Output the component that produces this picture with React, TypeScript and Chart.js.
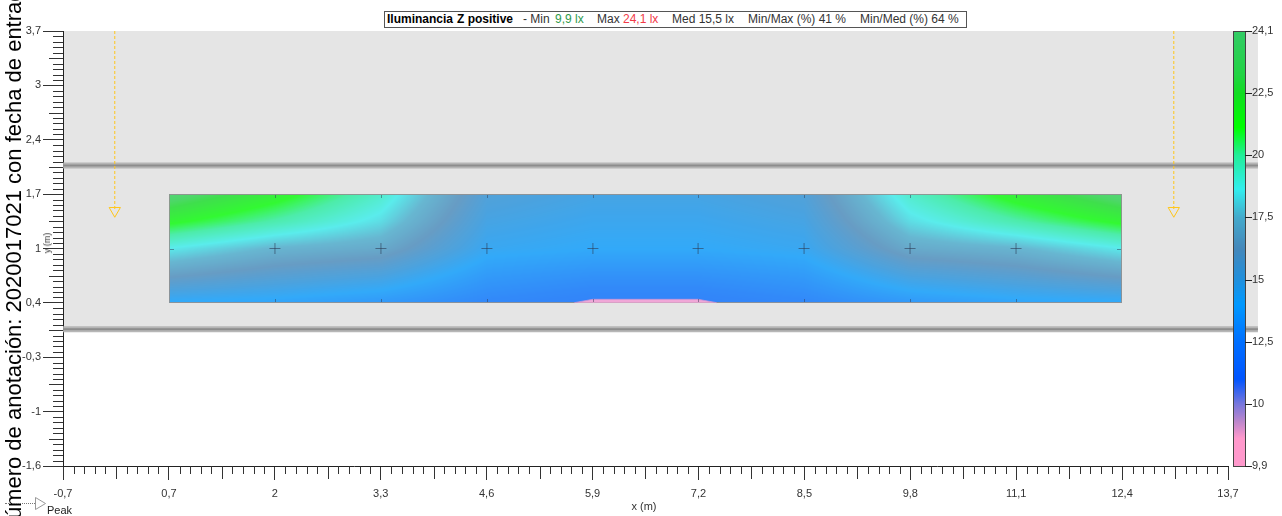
import React, { useEffect, useRef } from "react";
import { Chart, registerables } from "chart.js";

Chart.register(...registerables);

const X_MIN = -0.7;
const X_MAX = 13.7;
const Y_MIN = -1.6;
const Y_MAX = 3.7;

const xTickLabels = ["-0,7", "0,7", "2", "3,3", "4,6", "5,9", "7,2", "8,5", "9,8", "11,1", "12,4", "13,7"];
const yTickLabels = ["-1,6", "-1", "-0,3", "0,4", "1", "1,7", "2,4", "3", "3,7"];

const cbValues = [9.9, 10, 12.5, 15, 17.5, 20, 22.5, 24.1];
const cbLabels = ["9,9", "10", "12,5", "15", "17,5", "20", "22,5", "24,1"];
const cbStopPos = [0, 0.45, 0.7, 1, 1.4, 2, 2.6, 3, 3.5, 4, 4.45, 5, 5.45, 6, 6.3, 7];
const cbStopColor = [
  "#ff99cc", "#ff99cc", "#c088cc", "#7777dd", "#0055ff", "#0070ff", "#0099ff", "#2090dd",
  "#4488bb", "#44aacc", "#33eeee", "#22ee99", "#00ff00", "#11dd22", "#22d444", "#33cc66",
];

const planeX = [-0.7, 14.07];
const planeY = [0.065, 3.7];
const wallY = [2.06, 0.065];

const gridX = [0.61, 1.92, 3.23, 4.54, 5.85, 7.15, 8.46, 9.77, 11.08, 12.39];
const gridY = [1.71, 1.38, 1.05, 0.72, 0.39];
const illuminance = [
  [23.6, 21.7, 19.3, 15.3, 14.8, 14.8, 15.3, 19.3, 21.7, 23.6],
  [21.4, 19.9, 18.3, 14.8, 14.4, 14.4, 14.8, 18.3, 19.9, 21.4],
  [18.6, 17.4, 16.9, 14.3, 14.0, 14.0, 14.3, 16.9, 17.4, 18.6],
  [16.4, 15.6, 15.0, 13.3, 12.9, 12.9, 13.3, 15.0, 15.6, 16.4],
  [13.9, 13.7, 13.2, 12.4, 12.0, 12.0, 12.4, 13.2, 13.7, 13.9],
];

// area below 10 lx (pink zone) on the lower edge
const minZoneX = [5.62, 5.85, 7.15, 7.38];
const minZoneY = [0.39, 0.431, 0.431, 0.39];

const calcX = [1.92, 3.23, 4.54, 5.85, 7.15, 8.46, 9.77, 11.08];
const calcY = 1.05;

const luminaireX = [-0.06, 13.03];
const luminaireTipY = 1.51;

const FONT = '"Liberation Sans", Arial, sans-serif';
const HEAT_ALPHA = 199;

function hexToRgb(h: string): number[] {
  const n = parseInt(h.slice(1), 16);
  return [(n >> 16) & 255, (n >> 8) & 255, n & 255];
}
const cbStopRgb = cbStopColor.map(hexToRgb);

function posForValue(v: number): number {
  if (v <= cbValues[0]) return 0;
  for (let i = 0; i < cbValues.length - 1; i++) {
    if (v <= cbValues[i + 1]) return i + (v - cbValues[i]) / (cbValues[i + 1] - cbValues[i]);
  }
  return cbValues.length - 1;
}

function colorAtPos(p: number): number[] {
  if (p <= cbStopPos[0]) return cbStopRgb[0];
  for (let i = 0; i < cbStopPos.length - 1; i++) {
    if (p <= cbStopPos[i + 1]) {
      const t = (p - cbStopPos[i]) / (cbStopPos[i + 1] - cbStopPos[i]);
      const a = cbStopRgb[i], b = cbStopRgb[i + 1];
      return [a[0] + (b[0] - a[0]) * t, a[1] + (b[1] - a[1]) * t, a[2] + (b[2] - a[2]) * t];
    }
  }
  return cbStopRgb[cbStopRgb.length - 1];
}

function locate(arr: number[], v: number): [number, number] {
  const n = arr.length;
  for (let i = 0; i < n - 1; i++) {
    const a = arr[i], b = arr[i + 1];
    const lo = Math.min(a, b), hi = Math.max(a, b);
    if (v >= lo && v <= hi) return [i, (v - a) / (b - a)];
  }
  const asc = arr[n - 1] > arr[0];
  if ((asc && v < arr[0]) || (!asc && v > arr[0])) return [0, 0];
  return [n - 2, 1];
}

function interp(xv: number, yv: number): number {
  const [i, tx] = locate(gridX, xv);
  const [j, ty] = locate(gridY, yv);
  const a = illuminance[j][i], b = illuminance[j][i + 1];
  const c = illuminance[j + 1][i], d = illuminance[j + 1][i + 1];
  const top = a + (b - a) * tx;
  const bot = c + (d - c) * tx;
  return top + (bot - top) * ty;
}

const scenePlugin = {
  id: "scene",
  beforeDraw(chart: any) {
    const { ctx } = chart;
    const xs = chart.scales.x, ys = chart.scales.y;
    ctx.save();
    const px0 = xs.getPixelForValue(planeX[0]) + 1;
    const px1 = xs.getPixelForValue(planeX[1]);
    const py0 = ys.getPixelForValue(planeY[1]);
    const py1 = ys.getPixelForValue(planeY[0]);
    ctx.fillStyle = "#e5e5e5";
    ctx.fillRect(px0, py0, px1 - px0, py1 - py0);

    const hx0 = Math.round(xs.getPixelForValue(gridX[0]));
    const hx1 = Math.round(xs.getPixelForValue(gridX[gridX.length - 1]));
    const hy0 = Math.round(ys.getPixelForValue(gridY[0]));
    const hy1 = Math.round(ys.getPixelForValue(gridY[gridY.length - 1]));
    const w = hx1 - hx0, h = hy1 - hy0;
    const off = document.createElement("canvas");
    off.width = w;
    off.height = h;
    const octx = off.getContext("2d")!;
    const img = octx.createImageData(w, h);
    for (let j = 0; j < h; j++) {
      const yv = ys.getValueForPixel(hy0 + j + 0.5);
      for (let i = 0; i < w; i++) {
        const xv = xs.getValueForPixel(hx0 + i + 0.5);
        const v = interp(xv, yv);
        const c = colorAtPos(posForValue(v));
        const k = (j * w + i) * 4;
        img.data[k] = c[0];
        img.data[k + 1] = c[1];
        img.data[k + 2] = c[2];
        img.data[k + 3] = HEAT_ALPHA;
      }
    }
    octx.putImageData(img, 0, 0);
    ctx.drawImage(off, hx0, hy0);
    ctx.strokeStyle = "rgba(145,145,145,0.9)";
    ctx.lineWidth = 1;
    ctx.strokeRect(hx0 + 0.5, hy0 + 0.5, w - 1, h - 1);
    ctx.restore();
  },
  afterDatasetsDraw(chart: any) {
    const { ctx } = chart;
    const xs = chart.scales.x, ys = chart.scales.y;
    const hx0 = Math.round(xs.getPixelForValue(gridX[0]));
    const hx1 = Math.round(xs.getPixelForValue(gridX[gridX.length - 1]));
    const hy0 = Math.round(ys.getPixelForValue(gridY[0]));
    const hy1 = Math.round(ys.getPixelForValue(gridY[gridY.length - 1]));
    ctx.save();
    ctx.strokeStyle = "rgba(45,60,85,0.5)";
    ctx.lineWidth = 1;
    ctx.beginPath();
    calcX.forEach((cx) => {
      const p = Math.round(xs.getPixelForValue(cx)) + 0.5;
      ctx.moveTo(p, hy0 + 1);
      ctx.lineTo(p, hy0 + 4);
      ctx.moveTo(p, hy1 - 4);
      ctx.lineTo(p, hy1 - 1);
    });
    const cy = Math.round(ys.getPixelForValue(calcY)) + 0.5;
    ctx.moveTo(hx0 + 1, cy);
    ctx.lineTo(hx0 + 5, cy);
    ctx.moveTo(hx1 - 5, cy);
    ctx.lineTo(hx1 - 1, cy);
    ctx.stroke();
    ctx.restore();
  },
  afterDraw(chart: any) {
    const { ctx, chartArea } = chart;
    const xs = chart.scales.x, ys = chart.scales.y, cb = chart.scales.cb;
    ctx.save();
    ctx.strokeStyle = "#333";
    ctx.lineWidth = 1;
    ctx.beginPath();
    const xStep = (X_MAX - X_MIN) / (xTickLabels.length - 1);
    for (let i = 0; i < xTickLabels.length - 1; i++) {
      for (let k = 1; k < 10; k++) {
        const p = Math.round(xs.getPixelForValue(X_MIN + (i + k / 10) * xStep)) + 0.5;
        const len = k === 5 ? 13 : 8;
        ctx.moveTo(p, chartArea.bottom);
        ctx.lineTo(p, chartArea.bottom + len);
      }
    }
    const yStep = (Y_MAX - Y_MIN) / (yTickLabels.length - 1);
    for (let i = 0; i < yTickLabels.length - 1; i++) {
      for (let k = 1; k < 10; k++) {
        const p = Math.round(ys.getPixelForValue(Y_MIN + (i + k / 10) * yStep)) + 0.5;
        const len = k === 5 ? 14 : 10;
        ctx.moveTo(chartArea.left, p);
        ctx.lineTo(chartArea.left - len, p);
      }
    }
    ctx.stroke();

    // colour bar
    const bx = chartArea.right + 5;
    const bw = 13;
    const top = Math.round(cb.getPixelForValue(cbValues.length - 1));
    const bot = Math.round(cb.getPixelForValue(0));
    for (let y = top; y < bot; y++) {
      const p = cb.getValueForPixel(y + 0.5);
      const c = colorAtPos(p);
      ctx.fillStyle = `rgb(${c[0] | 0},${c[1] | 0},${c[2] | 0})`;
      ctx.fillRect(bx, y, bw, 1);
    }
    ctx.strokeStyle = "#444";
    ctx.strokeRect(bx + 0.5, top + 0.5, bw - 1, bot - top);
    ctx.strokeStyle = "#222";
    ctx.beginPath();
    cbValues.forEach((_, i) => {
      const p = Math.round(cb.getPixelForValue(i)) + 0.5;
      ctx.moveTo(bx + bw - 1, p);
      ctx.lineTo(bx + bw + 6, p);
    });
    ctx.stroke();
    ctx.restore();
  },
};

const datasets: any[] = [
  {
    label: "calc",
    data: calcX.map((x) => ({ x, y: calcY })),
    pointStyle: "cross",
    pointRadius: 5.5,
    pointBorderColor: "rgba(45,60,85,0.6)",
    pointBorderWidth: 1,
    order: 0,
  },
  {
    label: "min",
    data: minZoneX.map((x, i) => ({ x, y: minZoneY[i] })),
    showLine: true,
    fill: { value: gridY[gridY.length - 1] },
    backgroundColor: "rgba(247,168,214,0.97)",
    borderColor: "rgba(200,150,215,0.8)",
    borderWidth: 1,
    pointRadius: 0,
    order: 1,
  },
  ...luminaireX.map((lx) => ({
    label: "lum",
    data: [
      { x: lx, y: Y_MAX },
      { x: lx, y: luminaireTipY },
    ],
    showLine: true,
    borderColor: "#ffc61a",
    borderWidth: 1,
    borderDash: [3, 2],
    pointRadius: [0, 6.5],
    pointStyle: "triangle",
    pointRotation: 180,
    pointBorderColor: "#ffc61a",
    pointBackgroundColor: "rgba(0,0,0,0)",
    pointBorderWidth: 1,
    order: 2,
    clip: false,
  })),
  ...wallY.map((wy) => ({
    label: "wall",
    data: [
      { x: planeX[0], y: wy },
      { x: planeX[1], y: wy },
    ],
    showLine: true,
    borderColor: "#8d8d8d",
    borderWidth: 2,
    pointRadius: 0,
    order: 3,
    clip: false,
  })),
  ...wallY.map((wy) => ({
    label: "wallShade",
    data: [
      { x: planeX[0], y: wy },
      { x: planeX[1], y: wy },
    ],
    showLine: true,
    borderColor: "rgba(175,175,175,0.9)",
    borderWidth: 6,
    pointRadius: 0,
    order: 4,
    clip: false,
  })),
];

const titleParts = [
  { text: "Iluminancia", x: 387, bold: true, color: "#000" },
  { text: "Z positive", x: 457, bold: true, color: "#000" },
  { text: "- Min", x: 523, bold: false, color: "#333" },
  { text: "9,9 lx", x: 555, bold: false, color: "#2f9a4c" },
  { text: "Max", x: 597, bold: false, color: "#333" },
  { text: "24,1 lx", x: 623, bold: false, color: "#f23a48" },
  { text: "Med 15,5 lx", x: 672, bold: false, color: "#333" },
  { text: "Min/Max (%) 41 %", x: 748, bold: false, color: "#333" },
  { text: "Min/Med (%) 64 %", x: 860, bold: false, color: "#333" },
];

const sideNote = "Número de anotación: 2020017021 con fecha de entrada";

export default function App() {
  const ref = useRef<HTMLCanvasElement>(null);

  useEffect(() => {
    const canvas = ref.current!;
    const chart = new Chart(canvas, {
      type: "scatter",
      data: { datasets },
      plugins: [scenePlugin],
      options: {
        animation: false,
        responsive: false,
        devicePixelRatio: 1,
        events: [],
        layout: { padding: { top: 31, left: 0, right: 0, bottom: 0 } },
        plugins: { legend: { display: false }, tooltip: { enabled: false }, title: { display: false } },
        scales: {
          x: {
            type: "linear",
            position: "bottom",
            min: X_MIN,
            max: X_MAX,
            afterBuildTicks: (s: any) => {
              s.ticks = xTickLabels.map((_, i) => ({
                value: X_MIN + (i * (X_MAX - X_MIN)) / (xTickLabels.length - 1),
              }));
            },
            afterFit: (s: any) => {
              s.height = 50;
            },
            grid: { drawOnChartArea: false, drawTicks: true, tickLength: 14, color: "#333", tickColor: "#333" },
            border: { display: true, color: "#222", width: 1 },
            ticks: {
              autoSkip: false,
              maxRotation: 0,
              padding: 7,
              color: "#333",
              font: { family: FONT, size: 11 },
              callback: (_v: any, i: number) => xTickLabels[i],
            },
          },
          y: {
            type: "linear",
            position: "left",
            min: Y_MIN,
            max: Y_MAX,
            afterBuildTicks: (s: any) => {
              s.ticks = yTickLabels.map((_, i) => ({
                value: Y_MIN + (i * (Y_MAX - Y_MIN)) / (yTickLabels.length - 1),
              }));
            },
            afterFit: (s: any) => {
              s.width = 63;
            },
            grid: { drawOnChartArea: false, drawTicks: true, tickLength: 20, color: "#333", tickColor: "#333" },
            border: { display: true, color: "#222", width: 1 },
            ticks: {
              autoSkip: false,
              padding: 2,
              color: "#333",
              font: { family: FONT, size: 11 },
              callback: (_v: any, i: number) => yTickLabels[i],
            },
          },
          cb: {
            type: "linear",
            position: "right",
            min: 0,
            max: cbValues.length - 1,
            afterBuildTicks: (s: any) => {
              s.ticks = cbValues.map((_, i) => ({ value: i }));
            },
            afterFit: (s: any) => {
              s.width = 54;
            },
            grid: { display: false, drawTicks: false, drawOnChartArea: false },
            border: { display: false },
            ticks: {
              autoSkip: false,
              padding: 24,
              color: "#333",
              font: { family: FONT, size: 11 },
              callback: (_v: any, i: number) => cbLabels[i],
            },
          },
        },
      } as any,
    });
    return () => chart.destroy();
  }, []);

  return (
    <div
      style={{
        position: "fixed",
        left: 0,
        top: 0,
        width: 1282,
        height: 516,
        overflow: "hidden",
        background: "#fff",
        fontFamily: FONT,
      }}
    >
      <canvas ref={ref} width={1282} height={516} style={{ position: "absolute", left: 0, top: 0 }} />
      <div
        style={{
          position: "absolute",
          left: 0,
          top: 0,
          transform: "translate(3px, 535px) rotate(-90deg)",
          transformOrigin: "0 0",
          whiteSpace: "nowrap",
          fontSize: 22,
          lineHeight: "22px",
          color: "#000",
        }}
      >
        {sideNote}
      </div>
      <div
        style={{
          position: "absolute",
          left: 384,
          top: 11,
          width: 583,
          height: 17,
          boxSizing: "border-box",
          border: "1px solid #555",
          background: "#fff",
        }}
      >
        {titleParts.map((p, i) => (
          <span
            key={i}
            style={{
              position: "absolute",
              left: p.x - 385,
              top: 0,
              fontSize: 12,
              lineHeight: "15px",
              fontWeight: p.bold ? 700 : 400,
              color: p.color,
              whiteSpace: "nowrap",
            }}
          >
            {p.text}
          </span>
        ))}
      </div>
      <div
        style={{
          position: "absolute",
          left: 47,
          top: 243,
          transform: "translate(-50%, -50%) rotate(-90deg)",
          fontSize: 9,
          lineHeight: "10px",
          color: "#333",
          whiteSpace: "nowrap",
        }}
      >
        y (m)
      </div>
      <div
        style={{
          position: "absolute",
          left: 644,
          top: 506,
          transform: "translate(-50%, -50%)",
          fontSize: 11,
          lineHeight: "12px",
          color: "#333",
          whiteSpace: "nowrap",
        }}
      >
        x (m)
      </div>
      <div style={{ position: "absolute", left: 5, top: 503, width: 30, borderTop: "1px dotted #777" }} />
      <svg style={{ position: "absolute", left: 34, top: 496 }} width={13} height={15}>
        <polygon points="1.5,1.5 11.5,7.5 1.5,13.5" fill="none" stroke="#999" strokeWidth={1} />
      </svg>
      <div
        style={{
          position: "absolute",
          left: 47,
          top: 504,
          fontSize: 11,
          lineHeight: "12px",
          color: "#222",
        }}
      >
        Peak
      </div>
    </div>
  );
}
